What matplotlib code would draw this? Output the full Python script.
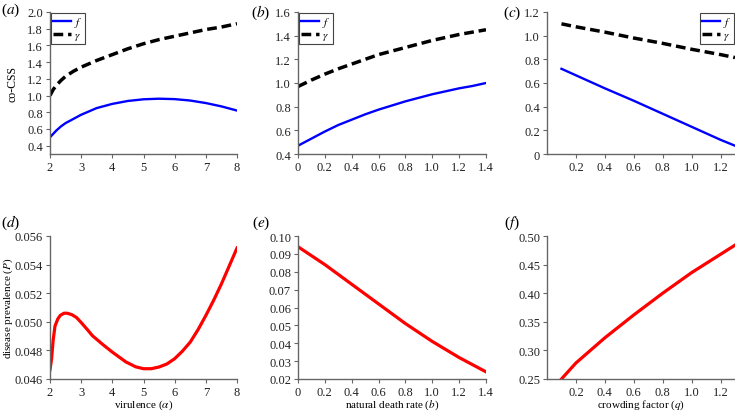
import numpy as np
import matplotlib
matplotlib.use("Agg")
import matplotlib.pyplot as plt
from matplotlib.ticker import FuncFormatter

plt.rcParams['font.family'] = ['Liberation Serif', 'DejaVu Serif']
plt.rcParams['mathtext.fontset'] = 'stix'
plt.rcParams['font.size'] = 9

# (a) co-CSS en fonction de la virulence
alpha_a = [2.0, 2.1, 2.2, 2.35, 2.5, 2.75, 3.0, 3.5, 4.0, 4.5, 5.0, 5.5, 6.0, 6.5, 7.0, 7.5, 8.0]
f_a = [0.50, 0.54, 0.58, 0.63, 0.67, 0.72, 0.77, 0.85, 0.90, 0.935, 0.955, 0.962, 0.957, 0.94, 0.91, 0.87, 0.82]
gamma_a = [1.00, 1.07, 1.12, 1.18, 1.23, 1.29, 1.34, 1.42, 1.49, 1.56, 1.62, 1.67, 1.71, 1.75, 1.79, 1.82, 1.86]

# (b) co-CSS en fonction du taux de mortalité naturelle
b_b = [0.0, 0.1, 0.2, 0.3, 0.4, 0.5, 0.6, 0.7, 0.8, 0.9, 1.0, 1.1, 1.2, 1.3, 1.4]
f_b = [0.47, 0.53, 0.59, 0.645, 0.69, 0.735, 0.775, 0.81, 0.845, 0.875, 0.905, 0.93, 0.955, 0.975, 1.00]
gamma_b = [0.97, 1.025, 1.075, 1.12, 1.16, 1.20, 1.24, 1.27, 1.30, 1.33, 1.36, 1.385, 1.41, 1.43, 1.45]

# (c) co-CSS en fonction du facteur d'encombrement
q_c = [0.1, 0.2, 0.4, 0.6, 0.8, 1.0, 1.2, 1.3]
f_c = [0.72, 0.665, 0.555, 0.45, 0.34, 0.23, 0.12, 0.07]
gamma_c = [1.10, 1.075, 1.03, 0.98, 0.935, 0.885, 0.84, 0.815]

# (d) prévalence en fonction de la virulence
alpha_d = [2.0, 2.05, 2.1, 2.16, 2.25, 2.33, 2.45, 2.55, 2.7, 2.85, 3.0, 3.2, 3.36, 3.7, 4.0,
           4.43, 4.75, 5.0, 5.25, 5.5, 5.75, 6.0, 6.25, 6.5, 6.75, 7.0, 7.25, 7.5, 7.75, 8.0]
P_d = [0.04665, 0.0474, 0.0487, 0.0497, 0.0502, 0.05045, 0.0506, 0.0506, 0.0505, 0.0503, 0.04995,
       0.04945, 0.04903, 0.0484, 0.04788, 0.0472, 0.04685, 0.04672, 0.04672, 0.04684, 0.04705,
       0.04742, 0.04795, 0.04858, 0.04945, 0.05044, 0.0515, 0.05265, 0.0539, 0.05516]

# (e) prévalence en fonction du taux de mortalité naturelle
b_e = [0.0, 0.2, 0.4, 0.6, 0.8, 1.0, 1.2, 1.4]
P_e = [0.094, 0.084, 0.073, 0.062, 0.051, 0.041, 0.032, 0.024]

# (f) prévalence en fonction du facteur d'encombrement
q_f = [0.1, 0.2, 0.4, 0.6, 0.8, 1.0, 1.2, 1.3]
P_f = [0.25, 0.278, 0.322, 0.362, 0.400, 0.436, 0.468, 0.484]

fig = plt.figure(figsize=(7.35, 4.14), dpi=100)
W, H = 735.0, 414.0


def make_ax(x0, x1, y0, y1):
    ax = fig.add_axes([x0 / W, 1 - y1 / H, (x1 - x0) / W, (y1 - y0) / H])
    for s in ['top', 'right']:
        ax.spines[s].set_visible(False)
    for s in ['left', 'bottom']:
        ax.spines[s].set_color('#666666')
        ax.spines[s].set_linewidth(1.0)
    ax.tick_params(direction='out', length=3, width=0.8, color='#666666',
                   labelsize=9, labelcolor='#222222', pad=2)
    return ax


def fmt(dec):
    def f(v, pos):
        if abs(v) < 1e-9:
            return '0'
        return f"{v:.{dec}f}"
    return FuncFormatter(f)


top = (13, 155)
bot = (237, 380)
cols = [(50, 237), (298, 486), (547, 735)]

axa = make_ax(cols[0][0], cols[0][1], *top)
axb = make_ax(cols[1][0], cols[1][1], *top)
axc = make_ax(cols[2][0], cols[2][1], *top)
axd = make_ax(cols[0][0], cols[0][1], *bot)
axe = make_ax(cols[1][0], cols[1][1], *bot)
axf = make_ax(cols[2][0], cols[2][1], *bot)

for ax, x, f, g in [(axa, alpha_a, f_a, gamma_a), (axb, b_b, f_b, gamma_b), (axc, q_c, f_c, gamma_c)]:
    ax.plot(x, f, color='#0000ff', lw=1.7, label='$f$')
    ax.plot(x, g, color='black', lw=2.5, dashes=(2.8, 1.4), label='$\\gamma$')

axa.set_xlim(2, 8)
axa.set_xticks(np.arange(2, 9, 1))
axa.set_ylim(0.3, 2.0)
axa.set_yticks(np.arange(0.4, 2.01, 0.2))
axa.yaxis.set_major_formatter(fmt(1))
axa.set_ylabel('co-CSS', fontsize=8.5)
axa.yaxis.set_label_coords(-0.17, 0.5)

axb.set_xlim(0, 1.4)
axb.set_ylim(0.4, 1.6)
axb.set_xticks(np.arange(0, 1.41, 0.2))
axb.set_yticks(np.arange(0.4, 1.61, 0.2))
axb.xaxis.set_major_formatter(fmt(1))
axb.yaxis.set_major_formatter(fmt(1))

axc.set_xlim(0, 1.3)
axc.set_ylim(0, 1.2)
axc.set_xticks(np.arange(0.2, 1.21, 0.2))
axc.set_yticks(np.arange(0, 1.21, 0.2))
axc.xaxis.set_major_formatter(fmt(1))
axc.yaxis.set_major_formatter(fmt(1))

leg_kw = dict(fontsize=8, handlelength=1.6, handletextpad=0.3, borderpad=0.2,
              labelspacing=0.05, borderaxespad=0.1, fancybox=False, framealpha=1)
for ax, loc in [(axa, 'upper left'), (axb, 'upper left'), (axc, 'upper right')]:
    leg = ax.legend(loc=loc, **leg_kw)
    leg.get_frame().set_edgecolor('#444444')
    leg.get_frame().set_linewidth(0.8)

axd.plot(alpha_d, P_d, color='#ff0000', lw=2.3)
axd.set_xlim(2, 8)
axd.set_xticks(np.arange(2, 9, 1))
axd.set_ylim(0.046, 0.056)
axd.set_yticks(np.arange(0.046, 0.05601, 0.002))
axd.yaxis.set_major_formatter(fmt(3))
axd.set_xlabel('virulence ($\\alpha$)', fontsize=8, labelpad=0)
axd.set_ylabel('disease prevalence ($P$)', fontsize=8)
axd.yaxis.set_label_coords(-0.185, 0.5)

axe.plot(b_e, P_e, color='#ff0000', lw=2.3)
axe.set_xlim(0, 1.4)
axe.set_ylim(0.02, 0.10)
axe.set_xticks(np.arange(0, 1.41, 0.2))
axe.set_yticks(np.arange(0.02, 0.1001, 0.01))
axe.xaxis.set_major_formatter(fmt(1))
axe.yaxis.set_major_formatter(fmt(2))
axe.set_xlabel('natural death rate ($b$)', fontsize=8, labelpad=0)

axf.plot(q_f, P_f, color='#ff0000', lw=2.3)
axf.set_xlim(0, 1.3)
axf.set_ylim(0.25, 0.50)
axf.set_xticks(np.arange(0.2, 1.21, 0.2))
axf.set_yticks(np.arange(0.25, 0.5001, 0.05))
axf.xaxis.set_major_formatter(fmt(1))
axf.yaxis.set_major_formatter(fmt(2))
axf.set_xlabel('crowding factor ($q$)', fontsize=8, labelpad=0)

for lab, (x, y) in zip(['a', 'b', 'c', 'd', 'e', 'f'],
                       [(11, 10), (261, 13), (512, 13), (11, 223), (261, 223), (512, 223)]):
    fig.text(x / W, 1 - y / H, f'(${lab}$)', fontsize=11, ha='center', va='center')

fig.savefig('out.png', dpi=100)
